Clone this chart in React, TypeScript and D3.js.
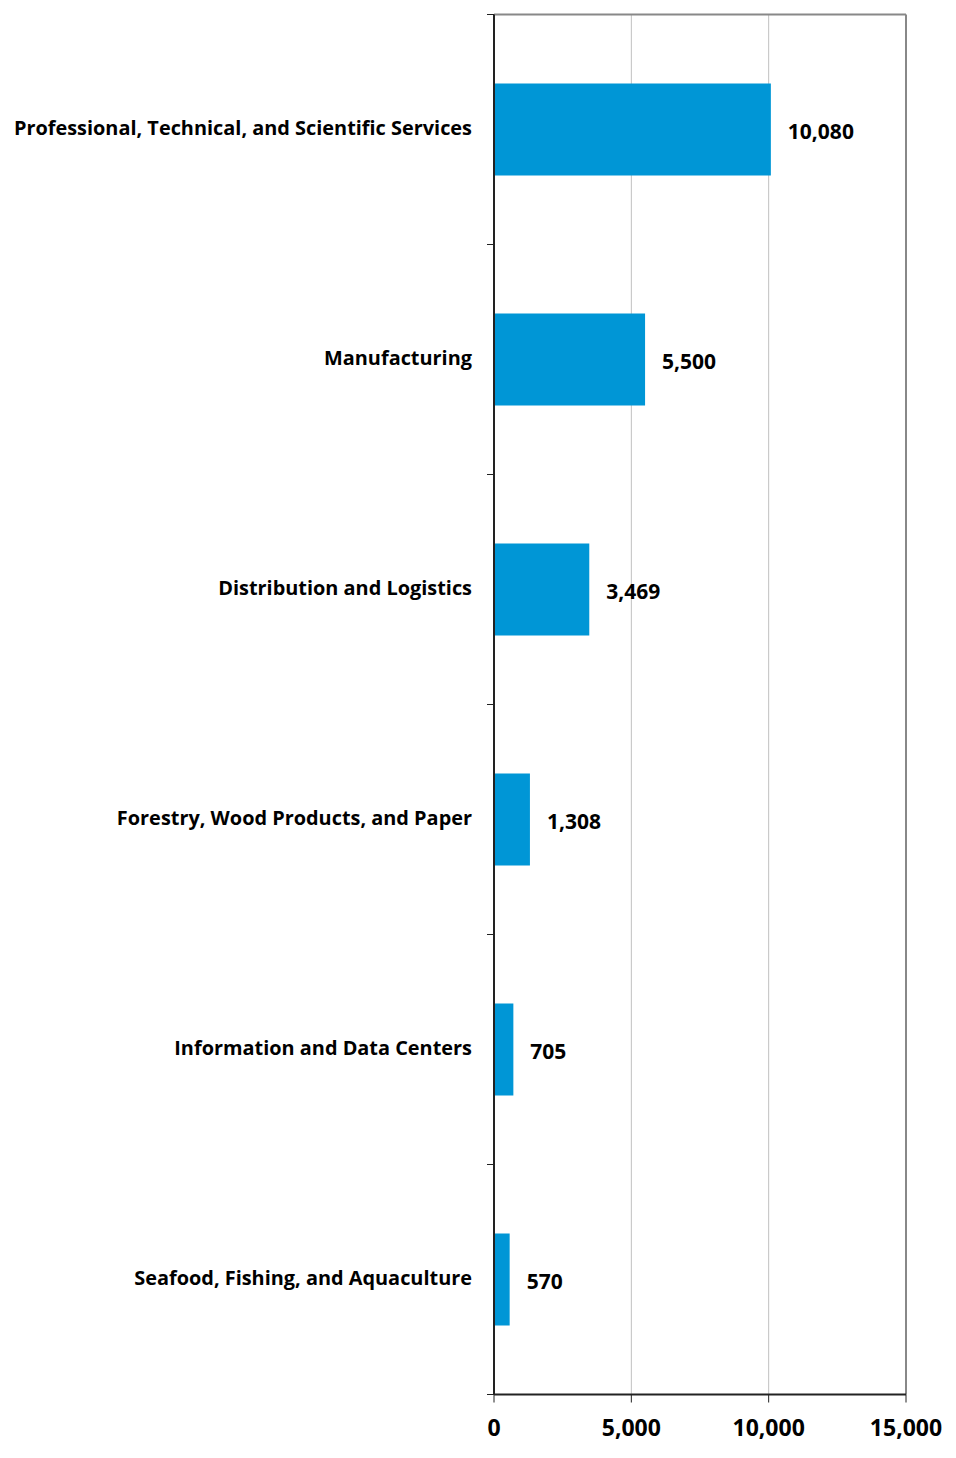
import React from "react";
import * as d3 from "d3";

const categories = [
  "Professional, Technical, and Scientific Services",
  "Manufacturing",
  "Distribution and Logistics",
  "Forestry, Wood Products, and Paper",
  "Information and Data Centers",
  "Seafood, Fishing, and Aquaculture",
];
const values = [10080, 5500, 3469, 1308, 705, 570];
const xTicks = [0, 5000, 10000, 15000];

const W = 956;
const H = 1458;
const left = 494;
const right = 906;
const top = 14.5;
const bottom = 1394.5;
const FONT = "'Open Sans', sans-serif";
const BAR = "#0096d6";

export default function App() {
  const x = d3.scaleLinear().domain([0, 15000]).range([left, right]);
  const y = d3
    .scaleBand<string>()
    .domain(categories)
    .range([top, bottom])
    .paddingInner(0.6)
    .paddingOuter(0.3);
  const fmt = d3.format(",");
  const step = y.step();
  const catBounds = d3.range(categories.length + 1).map((i) => top + i * step);

  return (
    <svg width={W} height={H} style={{ display: "block", position: "absolute", left: 0, top: 0 }}>
      <rect x={0} y={0} width={W} height={H} fill="#fff" />
      {xTicks.slice(1, -1).map((t) => (
        <line key={t} x1={x(t)} x2={x(t)} y1={top} y2={bottom} stroke="#c0c0c0" strokeWidth={1} />
      ))}
      <line x1={left} x2={right} y1={top} y2={top} stroke="#888" strokeWidth={2} />
      <line x1={right} x2={right} y1={top} y2={bottom} stroke="#888" strokeWidth={2} />
      {categories.map((c, i) => (
        <rect key={c} x={x(0)} y={y(c)} width={x(values[i]) - x(0)} height={y.bandwidth()} fill={BAR} />
      ))}
      <line x1={left} x2={left} y1={top} y2={bottom} stroke="#222" strokeWidth={2} />
      {catBounds.map((b, i) => (
        <line key={i} x1={left - 7} x2={left} y1={b} y2={b} stroke="#222" strokeWidth={1} />
      ))}
      <line x1={left} x2={right} y1={bottom} y2={bottom} stroke="#222" strokeWidth={2} />
      {xTicks.map((t) => (
        <line key={t} x1={x(t)} x2={x(t)} y1={bottom} y2={bottom + 8} stroke="#222" strokeWidth={1} />
      ))}
      {xTicks.map((t) => (
        <text key={t} x={x(t)} y={1436} textAnchor="middle" fontFamily={FONT} fontWeight="bold" fontSize={23} fill="#000">
          {fmt(t)}
        </text>
      ))}
      {categories.map((c) => (
        <text key={c} x={472} y={(y(c) as number) + y.bandwidth() / 2 - 1} dy="0.35em" textAnchor="end" fontFamily={FONT} fontWeight="bold" fontSize={19.9} fill="#000">
          {c}
        </text>
      ))}
      {categories.map((c, i) => (
        <text key={c} x={x(values[i]) + 17} y={(y(c) as number) + y.bandwidth() / 2 + 2} dy="0.35em" fontFamily={FONT} fontWeight="bold" fontSize={21} fill="#000">
          {fmt(values[i])}
        </text>
      ))}
    </svg>
  );
}
